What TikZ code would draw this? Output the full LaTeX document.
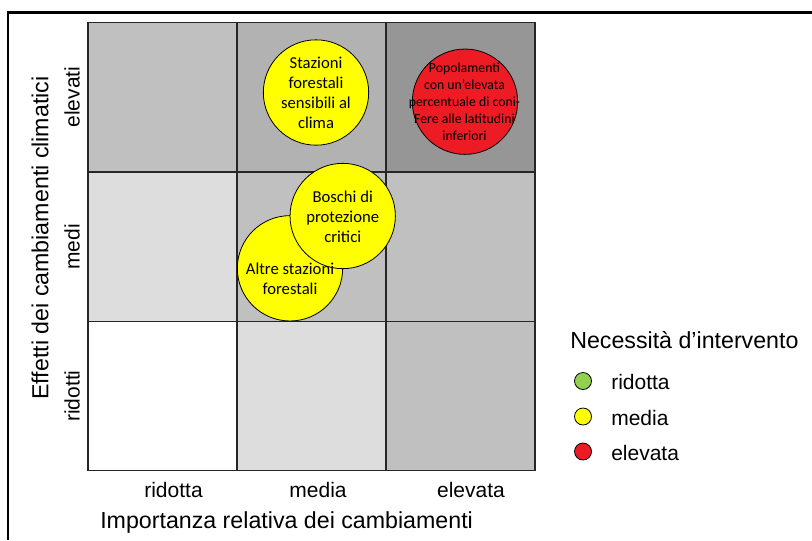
\documentclass[tikz,border=0pt]{standalone}
\usepackage{fontspec}
\setmainfont{Liberation Sans}
\newfontfamily\calib{Carlito}
\definecolor{gA}{HTML}{C0C0C0}
\definecolor{gB}{HTML}{B2B2B2}
\definecolor{gC}{HTML}{969696}
\definecolor{gD}{HTML}{DDDDDD}
\definecolor{gridc}{HTML}{262626}
\definecolor{bubyellow}{HTML}{FFFF00}
\definecolor{bubred}{HTML}{ED1C24}
\definecolor{bubgreen}{HTML}{92D050}
\begin{document}
\begin{tikzpicture}[x=0.75pt,y=-0.75pt,
  gridline/.style={draw=gridc,line width=1.1pt},
  frameline/.style={draw=black,line width=1.6pt},
  bubble/.style={circle,draw=black,line width=0.6pt,minimum size=79pt,inner sep=0pt},
  bubtext/.style={align=center,inner sep=0pt,font=\calib\fontsize{12.5}{15}\selectfont},
  bubsmall/.style={align=center,inner sep=0pt,font=\calib\fontsize{10.35}{12.75}\selectfont},
  catlabel/.style={inner sep=0pt,font=\fontsize{15.75}{18}\selectfont},
  axtitle/.style={inner sep=0pt,font=\fontsize{17.4}{20}\selectfont},
  legdot/.style={circle,draw=black,line width=0.6pt,minimum size=12.75pt,inner sep=0pt},
  leglabel/.style={inner sep=0pt,anchor=west,font=\fontsize{15.75}{18}\selectfont}]
\useasboundingbox (0,0) rectangle (812,540);
% frame (cropped on right and bottom)
\draw[frameline] (812,12.5) -- (8,12.5) -- (8,540);
% cells
\fill[gA] (88,22.5) rectangle (237,172);
\fill[gB] (237,22.5) rectangle (386,172);
\fill[gC] (386,22.5) rectangle (535,172);
\fill[gD] (88,172) rectangle (237,321.5);
\fill[gA] (237,172) rectangle (386,321.5);
\fill[gA] (386,172) rectangle (535,321.5);
\fill[white] (88,321.5) rectangle (237,470.5);
\fill[gD] (237,321.5) rectangle (386,470.5);
\fill[gA] (386,321.5) rectangle (535,470.5);
% grid lines
\draw[gridline] (88,22.5) rectangle (535,470.5);
\draw[gridline] (237,22.5) -- (237,470.5);
\draw[gridline] (386,22.5) -- (386,470.5);
\draw[gridline] (88,172) -- (535,172);
\draw[gridline] (88,321.5) -- (535,321.5);
% bubbles
\node[bubble,fill=bubyellow] (staz) at (316,92.5) {};
\node[bubble,fill=bubred] (popo) at (465,101.7) {};
\node[bubble,fill=bubyellow] (altre) at (290,268.3) {};
\node[bubble,fill=bubyellow] (bosc) at (342.7,216) {};
% bubble texts
\node[bubtext] (tstaz) at (316,93) {Stazioni\\forestali\\sensibili al\\clima};
\node[bubsmall] (tpopo) at (464.5,102) {Popolamenti\\con un’elevata\\percentuale di coni-\\Fere alle latitudini\\inferiori};
\node[bubtext] (tbosc) at (342.7,216.5) {Boschi di\\protezione\\critici};
\node[bubtext] (taltre) at (290,279) {Altre stazioni\\forestali};
% x axis labels
\node[catlabel] (xr) at (173.5,490) {ridotta};
\node[catlabel] (xm) at (318,490) {media};
\node[catlabel] (xe) at (471,490) {elevata};
\node[axtitle,anchor=west] (xt) at (100,522) {Importanza relativa dei cambiamenti};
% y axis labels
\node[catlabel,rotate=90] (ye) at (72,97) {elevati};
\node[catlabel,rotate=90] (ym) at (72,247) {medi};
\node[catlabel,rotate=90] (yr) at (72,396) {ridotti};
\node[axtitle,rotate=90] (yt) at (40,238) {Effetti dei cambiamenti climatici};
% legend
\node[axtitle,anchor=west] (lt) at (570,340) {Necessità d’intervento};
\node[legdot,fill=bubgreen] (lg) at (583,381) {};
\node[legdot,fill=bubyellow] (ly) at (583,416.5) {};
\node[legdot,fill=bubred] (lr) at (583,451.5) {};
\node[leglabel] (lgt) at (611,382) {ridotta};
\node[leglabel] (lyt) at (611,417.5) {media};
\node[leglabel] (lrt) at (611,452.5) {elevata};
\end{tikzpicture}
\end{document}
